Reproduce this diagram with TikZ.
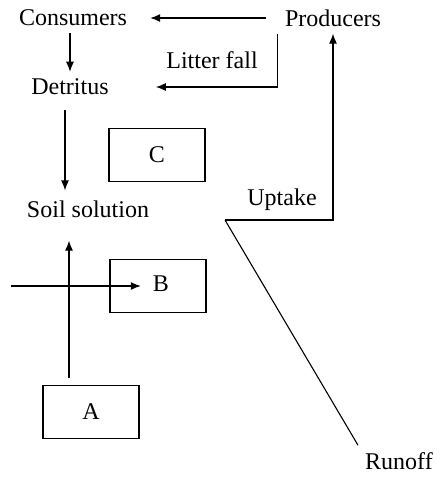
\documentclass[tikz,border=0pt]{standalone}
\usepackage{fontspec}
\setmainfont{Liberation Serif}
\usetikzlibrary{arrows.meta}
\begin{document}
\begin{tikzpicture}[x=0.5pt,y=-0.5pt,>={Latex[length=5pt,width=4pt]},line width=0.55pt,
    every node/.style={font=\fontsize{12pt}{14pt}\selectfont},
    box/.style={draw,minimum width=48pt,minimum height=26.5pt}]
        \useasboundingbox (0,0) rectangle (436,477);
        % pools
        \node (cons) at (73,18) {Consumers};
        \node (prod) at (333,18) {Producers};
        \node (detr) at (70,87) {Detritus};
        \node (soil) at (88,209) {Soil solution};
        \node (litter) at (212,60) {Litter fall};
        \node (upt) at (282,200) {Uptake};
        \node (run) at (399,461) {Runoff};
        % boxes
        \node[box] (c) at (157,155) {C};
        \node[box] (b) at (158,286) {};
        \node (blab) at (161,284) {B};
        \node[box] (a) at (91,412) {A};
        \coordinate (fork) at (225,220);
        \coordinate (aout) at (69,378);
        \coordinate (inflow) at (11,286);
        % flows
        \draw[->,shorten <=6pt,shorten >=8pt] (prod.west) -- (cons.east);
        \draw[->] (cons.south -| 70,0) -- (detr.north -| 70,0);
        \draw[->,shorten >=20pt] (prod.south west) |- (detr.east);
        \draw[->,shorten <=4pt,shorten >=1.5pt] (detr.south -| 65,0) -- (soil.north -| 65,0);
        \draw[->,shorten >=8pt] (aout) -- (aout |- soil.south);
        \draw[->,shorten >=2.5pt] (inflow) -- (inflow -| blab.west);
        \draw[->] (fork) -| (prod.south);
        \draw (fork) -- (run.north west);
      \end{tikzpicture}
\end{document}
